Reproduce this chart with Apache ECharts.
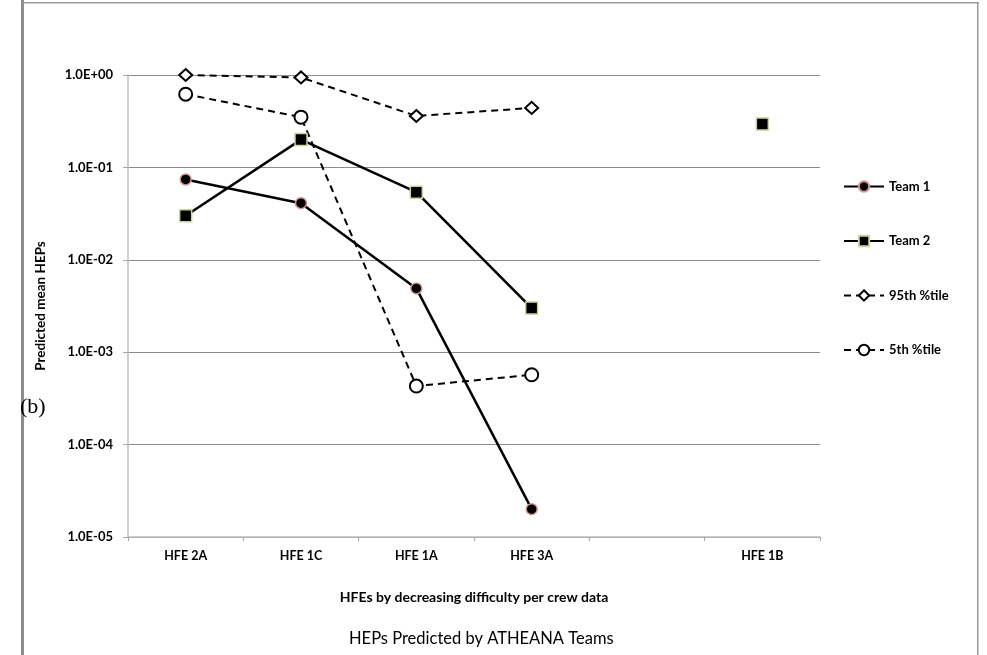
<!DOCTYPE html>
<html>
<head>
<meta charset="utf-8">
<script src="https://cdn.jsdelivr.net/npm/echarts@6/dist/echarts.min.js"></script>
<style>
html,body{margin:0;padding:0;background:#fff;}
#chart{width:987px;height:655px;}
</style>
</head>
<body>
<div id="chart"></div>
<script>
var categories = ['HFE 2A', 'HFE 1C', 'HFE 1A', 'HFE 3A', '', 'HFE 1B'];
var team1 = [0.074, 0.041, 0.0049, 0.00002, null, null];
var team2 = [0.03, 0.2, 0.054, 0.003, null, 0.295];
var p95 = [1.0, 0.94, 0.36, 0.44, null, null];
var p5 = [0.62, 0.35, 0.00043, 0.00057, null, null];
var seriesNames = ['Team 1', 'Team 2', '95th %tile', '5th %tile'];

var FONT = 'Lato, "Open Sans", sans-serif';
var chart = echarts.init(document.getElementById('chart'));

function fmt(v) {
  var e = Math.round(Math.log10(v));
  var s = e < 0 ? '-' : '+';
  var a = Math.abs(e);
  return '1.0E' + s + (a < 10 ? '0' + a : '' + a);
}

chart.setOption({
  animation: false,
  backgroundColor: '#fff',
  title: {
    text: 'HEPs Predicted by ATHEANA Teams',
    left: 344, top: 625,
    textStyle: {fontFamily: FONT, fontSize: 16.5, fontWeight: 'normal', color: '#000'}
  },
  grid: {left: 128, right: 167, top: 75, bottom: 118, containLabel: false},
  legend: {
    orient: 'vertical', left: 838, top: 175,
    itemWidth: 40, itemHeight: 13, itemGap: 41.5,
    data: seriesNames,
    textStyle: {fontFamily: FONT, fontSize: 13, fontWeight: 'bold', color: '#000', padding: [0, 0, 0, 0]}
  },
  xAxis: {
    type: 'category', data: categories, boundaryGap: true,
    name: 'HFEs by decreasing difficulty per crew data',
    nameLocation: 'middle', nameGap: 53,
    nameTextStyle: {fontFamily: FONT, fontSize: 14, fontWeight: 'bold', color: '#000'},
    axisLine: {lineStyle: {color: '#bfbfbf', width: 1.5}},
    axisTick: {show: true, alignWithLabel: false, length: 4, lineStyle: {color: '#a6a6a6'}},
    axisLabel: {margin: 12, fontFamily: FONT, fontSize: 12.5, fontWeight: 'bold', color: '#000', interval: 0},
    splitLine: {show: false}
  },
  yAxis: {
    type: 'log', logBase: 10, min: 0.00001, max: 1,
    name: 'Predicted mean HEPs', nameLocation: 'middle', nameGap: 80, nameRotate: 90,
    nameTextStyle: {fontFamily: FONT, fontSize: 13.5, fontWeight: 'bold', color: '#000'},
    axisLine: {show: true, lineStyle: {color: '#bfbfbf', width: 1.5}},
    axisTick: {show: true, length: 5, lineStyle: {color: '#a6a6a6'}},
    axisLabel: {margin: 15, formatter: fmt, fontFamily: FONT, fontSize: 13, fontWeight: 'bold', color: '#000'},
    splitLine: {show: true, lineStyle: {color: '#8c8c8c', width: 1}},
    minorTick: {show: false}
  },
  series: [
    {
      name: 'Team 1', type: 'line', data: team1, z: 4,
      symbol: 'circle', symbolSize: 11, connectNulls: false,
      lineStyle: {color: '#000', width: 2.5},
      itemStyle: {color: '#000', borderColor: '#d99694', borderWidth: 1.5}
    },
    {
      name: 'Team 2', type: 'line', data: team2, z: 5,
      symbol: 'rect', symbolSize: 12, connectNulls: false,
      lineStyle: {color: '#000', width: 2.5},
      itemStyle: {color: '#000', borderColor: '#c3d69b', borderWidth: 1.5}
    },
    {
      name: '95th %tile', type: 'line', data: p95, z: 3,
      symbol: 'diamond', symbolSize: [13, 12], connectNulls: false,
      lineStyle: {color: '#000', width: 2, type: [7, 5]},
      itemStyle: {color: '#fff', borderColor: '#000', borderWidth: 2}
    },
    {
      name: '5th %tile', type: 'line', data: p5, z: 3,
      symbol: 'circle', symbolSize: 13, connectNulls: false,
      lineStyle: {color: '#000', width: 2, type: [7, 5]},
      itemStyle: {color: '#fff', borderColor: '#000', borderWidth: 2}
    }
  ],
  graphic: [
    {type: 'rect', shape: {x: 21, y: 0, width: 3, height: 655}, style: {fill: '#8c8c8c'}, silent: true},
    {type: 'rect', shape: {x: 22, y: 2, width: 957, height: 1.5}, style: {fill: '#999'}, silent: true},
    {type: 'rect', shape: {x: 977, y: 2, width: 1.5, height: 653}, style: {fill: '#999'}, silent: true},
    {type: 'text', left: 20, top: 396, style: {text: '(b)', font: '22px "Liberation Serif", serif', fill: '#000'}}
  ]
});
</script>
</body>
</html>
